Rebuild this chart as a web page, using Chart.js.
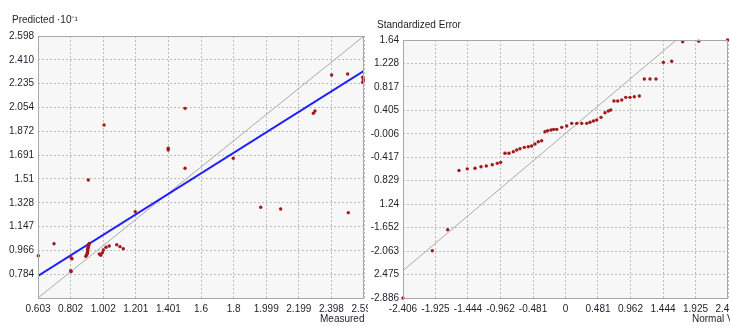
<!DOCTYPE html>
<html>
<head>
<meta charset="UTF-8">
<title>Cross validation</title>
<script src="https://cdn.jsdelivr.net/npm/chart.js"></script>
<style>
  html, body { margin: 0; padding: 0; background: #fff; overflow: hidden; width: 730px; height: 327px; }
  canvas { position: absolute; top: 0; }
  #left { left: 0; }
  #right { left: 368px; background: #fff; }
</style>
</head>
<body>
<canvas id="left" width="400" height="327"></canvas>
<canvas id="right" width="400" height="327"></canvas>
<script>
// left panel: predicted vs measured
const measured  = [0.605, 0.701, 0.805, 0.811, 0.803, 0.806, 0.895, 0.900, 0.905, 0.905, 0.908, 0.906, 0.909, 0.910, 0.912, 0.915, 0.917,
                   0.978, 0.987, 0.997, 1.003, 1.019, 1.039, 1.085, 1.105, 1.125, 1.198, 0.911, 1.007, 1.400, 1.400, 1.503,
                   1.503, 1.798, 1.966, 2.088, 2.502, 2.298, 2.288, 2.400, 2.498, 2.590, 2.590, 2.594];
const predicted = [0.925, 1.016, 0.910, 0.902, 0.811, 0.804, 0.920, 0.930, 0.940, 0.950, 0.960, 0.970, 0.980, 0.990, 1.000, 1.010, 1.019,
                   0.938, 0.928, 0.948, 0.969, 0.989, 0.999, 1.009, 0.994, 0.978, 1.260, 1.502, 1.920, 1.743, 1.730, 1.591,
                   2.047, 1.667, 1.294, 1.281, 1.253, 2.027, 2.010, 2.301, 2.309, 2.284, 2.246, 2.265];
const regX = [0.603, 2.598];
const regY = [0.771, 2.332];
const refLeft = [0.603, 2.598];

const leftXTicks  = [0.603, 0.8025, 1.002, 1.2015, 1.401, 1.6005, 1.800, 1.9995, 2.199, 2.3985, 2.598];
const leftXLabels = ['0.603', '0.802', '1.002', '1.201', '1.401', '1.6', '1.8', '1.999', '2.199', '2.398', '2.598'];
const leftYTicks  = [0.603, 0.784, 0.966, 1.147, 1.328, 1.510, 1.691, 1.872, 2.054, 2.235, 2.416, 2.598];
const leftYLabels = ['', '0.784', '0.966', '1.147', '1.328', '1.51', '1.691', '1.872', '2.054', '2.235', '2.410', '2.598'];

// right panel: normal QQ plot
const normalVal = [-2.406, -1.972, -1.744, -1.577, -1.454, -1.340, -1.251, -1.173, -1.084, -1.010, -0.960, -0.896, -0.837, -0.773,
                   -0.723, -0.674, -0.610, -0.551, -0.501, -0.452, -0.403, -0.353, -0.304, -0.264, -0.215, -0.175, -0.130, -0.056,
                   0.018, 0.092, 0.166, 0.240, 0.314, 0.363, 0.413, 0.462, 0.526, 0.585, 0.634, 0.669, 0.718, 0.773, 0.833,
                   0.892, 0.955, 1.019, 1.093, 1.167, 1.251, 1.340, 1.449, 1.572, 1.735, 1.972, 2.400];
const stdError  = [-2.886, -2.056, -1.688, -0.648, -0.620, -0.610, -0.583, -0.570, -0.548, -0.524, -0.506, -0.348, -0.348, -0.320,
                   -0.290, -0.267, -0.243, -0.232, -0.220, -0.185, -0.145, -0.127, 0.031, 0.049, 0.061, 0.073, 0.073, 0.108,
                   0.131, 0.178, 0.178, 0.178, 0.178, 0.196, 0.219, 0.236, 0.283, 0.365, 0.394, 0.412, 0.570, 0.570, 0.587,
                   0.634, 0.634, 0.645, 0.657, 0.955, 0.955, 0.955, 1.248, 1.266, 1.610, 1.620, 1.640];
const refRight = [-2.406, 1.640];

const rightXTicks  = [-2.406, -1.925, -1.444, -0.962, -0.481, 0, 0.481, 0.962, 1.444, 1.925, 2.406];
const rightXLabels = ['-2.406', '-1.925', '-1.444', '-0.962', '-0.481', '0', '0.481', '0.962', '1.444', '1.925', '2.406'];
const rightYTicks  = [-2.886, -2.475, -2.063, -1.652, -1.240, -0.829, -0.417, -0.006, 0.405, 0.817, 1.228, 1.640];
const rightYLabels = ['-2.886', '2.475', '-2.063', '-1.652', '1.24', '0.829', '-0.417', '-0.006', '0.405', '0.817', '1.228', '1.64'];

const FONT = '"Liberation Sans Narrow", "Liberation Sans", Arial, sans-serif';
const pts = (xs, ys) => xs.map((x, i) => ({ x: x, y: ys[i] }));

// plot background, frame and the two captions
const panelDeco = {
  id: 'panelDeco',
  beforeDraw(chart) {
    const a = chart.chartArea, c = chart.ctx;
    c.save();
    c.fillStyle = '#f7f7f7';
    c.fillRect(a.left, a.top, a.right - a.left, a.bottom - a.top);
    c.restore();
  },
  afterDraw(chart, args, o) {
    const a = chart.chartArea, c = chart.ctx;
    c.save();
    c.strokeStyle = '#a8a8a8';
    c.lineWidth = 1;
    c.strokeRect(a.left + 0.5, a.top + 0.5, a.right - a.left - 1, a.bottom - a.top);
    c.fillStyle = '#1e1e2a';
    c.font = '10px ' + FONT;
    c.textBaseline = 'middle';
    c.fillText(o.top, o.topX, o.topY);
    c.fillText(o.bottom, o.bottomX, o.bottomY);
    c.restore();
  }
};

function makeAxis(vals, labels, fixed, isX) {
  return {
    type: 'linear',
    min: vals[0],
    max: vals[vals.length - 1],
    afterBuildTicks: s => { s.ticks = vals.map(v => ({ value: v })); },
    afterFit: s => { if (isX) s.height = fixed; else s.width = fixed; },
    grid: { color: '#bdbdbd', lineWidth: 1, drawTicks: false },
    border: { display: false, dash: [2, 2] },
    ticks: {
      autoSkip: false, maxRotation: 0, padding: isX ? 5 : 4,
      color: '#1e1e2a', font: { family: FONT, size: 10 },
      callback: (v, i) => labels[i]
    }
  };
}

function panel(id, scatterData, lines, xv, xl, yv, yl, yWidth, top, rightPad, capt) {
  const datasets = [{
    data: scatterData,
    backgroundColor: '#a31818',
    borderWidth: 0,
    pointRadius: 1.7,
    pointHoverRadius: 1.7,
    clip: 4
  }].concat(lines);
  new Chart(document.getElementById(id), {
    type: 'scatter',
    data: { datasets: datasets },
    options: {
      responsive: false,
      animation: false,
      devicePixelRatio: 1,
      layout: { padding: { top: top, right: rightPad, left: 0, bottom: 0 } },
      scales: {
        x: makeAxis(xv, xl, 29, true),
        y: makeAxis(yv, yl, yWidth, false)
      },
      plugins: { legend: { display: false }, tooltip: { enabled: false }, panelDeco: capt }
    },
    plugins: [panelDeco]
  });
}

panel('left', pts(measured, predicted), [
  { data: pts(regX, regY), showLine: true, borderColor: '#1f1fff', borderWidth: 2, pointRadius: 0 },
  { data: pts(refLeft, refLeft), showLine: true, borderColor: '#a9a9a9', borderWidth: 1, pointRadius: 0 }
], leftXTicks, leftXLabels, leftYTicks, leftYLabels, 38, 36, 36,
  { top: 'Predicted ·10⁻¹', topX: 12, topY: 20, bottom: 'Measured  10⁻¹', bottomX: 320, bottomY: 319 });

panel('right', pts(normalVal, stdError), [
  { data: pts(refRight, refRight), showLine: true, borderColor: '#a9a9a9', borderWidth: 1, pointRadius: 0 }
], rightXTicks, rightXLabels, rightYTicks, rightYLabels, 35, 40, 40,
  { top: 'Standardized Error', topX: 9, topY: 25, bottom: 'Normal Value', bottomX: 324, bottomY: 319 });
</script>
</body>
</html>
